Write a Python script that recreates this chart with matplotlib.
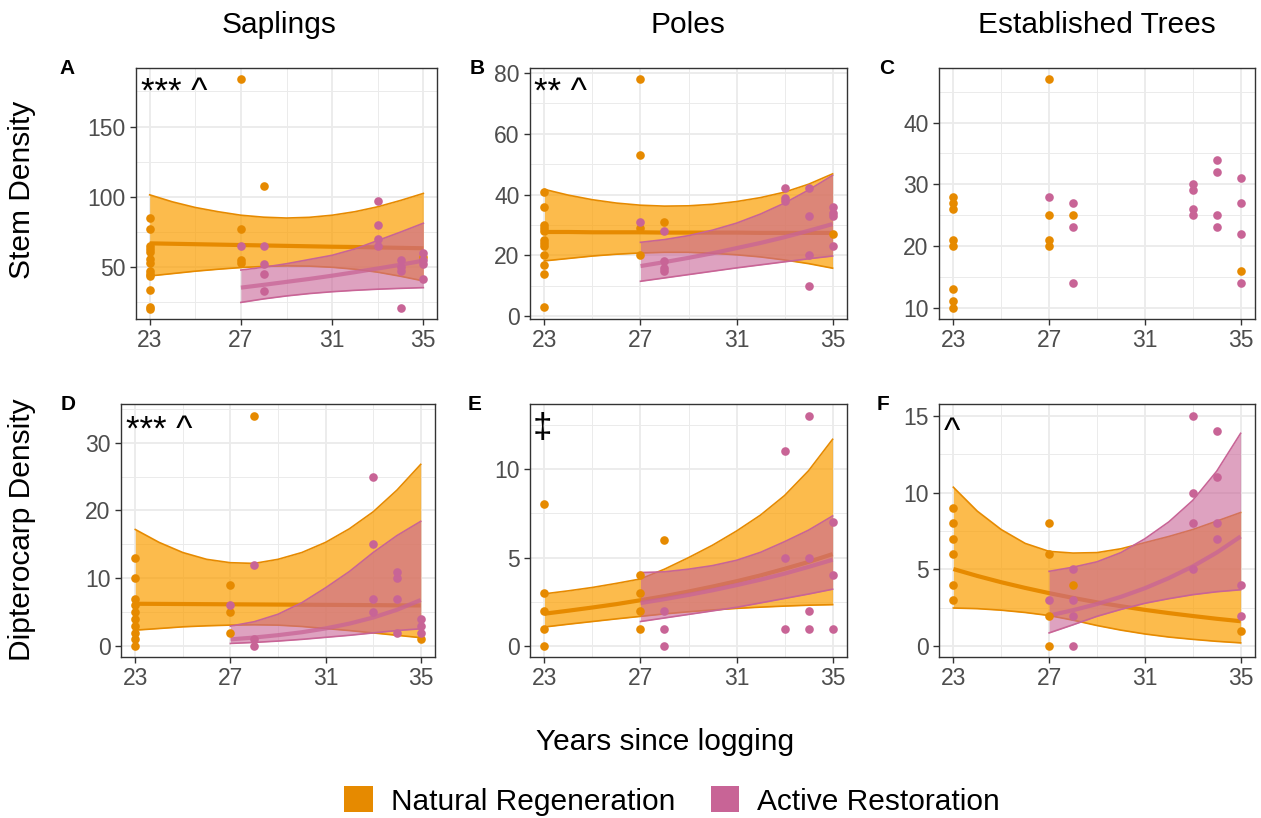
import matplotlib
matplotlib.use('Agg')
import matplotlib.pyplot as plt
from matplotlib.patches import Patch

plt.rcParams['font.family'] = ['Liberation Sans', 'DejaVu Sans']

W, H = 1261, 818

# years on the x axis
yrs_nat = list(range(23, 36))
yrs_act = list(range(27, 36))

# ---- A: saplings, stem density
A_nat = {23: [85, 77, 65, 63, 61, 56, 53, 47, 45, 44, 34, 22, 20], 27: [184, 77, 55, 53], 28: [108], 35: [57]}
A_act = {27: [65], 28: [65, 52, 45, 33], 33: [97, 80, 70, 65], 34: [55, 50, 47, 21], 35: [60, 55, 52, 42]}
A_nat_fit = [67.0, 66.7, 66.4, 66.1, 65.8, 65.5, 65.2, 64.9, 64.6, 64.4, 64.1, 63.8, 63.5]
A_nat_lo = [43.8, 45.5, 47.2, 48.6, 49.8, 50.6, 51.0, 50.8, 50.0, 48.6, 46.5, 43.6, 40.3]
A_nat_hi = [101.5, 96.5, 92.5, 89.5, 87.0, 85.6, 85.0, 85.5, 87.0, 89.5, 93.0, 97.5, 102.5]
A_act_fit = [35.5, 37.5, 39.6, 41.7, 44.0, 46.5, 49.1, 51.8, 54.7]
A_act_lo = [25.0, 27.5, 29.6, 31.3, 32.6, 33.6, 34.4, 35.0, 35.5]
A_act_hi = [48.0, 50.0, 52.5, 55.5, 58.5, 63.0, 69.0, 75.0, 81.3]

# ---- B: poles, stem density
B_nat = {23: [41, 36, 30, 29, 28, 25, 24, 23, 20, 17, 14, 3], 27: [78, 53, 29, 20], 28: [31], 35: [27]}
B_act = {27: [31], 28: [28, 18, 16, 15], 33: [42, 39, 38], 34: [42, 33, 20, 10], 35: [36, 34, 33, 23]}
B_nat_fit = [27.7, 27.7, 27.6, 27.6, 27.6, 27.5, 27.5, 27.5, 27.5, 27.4, 27.4, 27.4, 27.4]
B_nat_lo = [18.2, 19.0, 19.8, 20.4, 20.8, 21.0, 21.0, 20.7, 20.2, 19.5, 18.5, 17.3, 15.8]
B_nat_hi = [41.7, 39.8, 38.3, 37.2, 36.5, 36.2, 36.3, 36.8, 37.7, 39.0, 40.8, 43.4, 46.8]
B_act_fit = [16.5, 17.8, 19.2, 20.7, 22.4, 24.1, 26.0, 28.1, 30.3]
B_act_lo = [11.5, 12.6, 13.7, 14.8, 15.9, 16.9, 17.9, 18.9, 19.8]
B_act_hi = [24.3, 25.2, 26.5, 28.3, 30.6, 33.6, 37.2, 41.5, 46.3]

# ---- C: established trees, stem density (no fit)
C_nat = {23: [28, 27, 26, 21, 20, 13, 11, 10], 27: [47, 25, 21, 20], 28: [25], 35: [16]}
C_act = {27: [28], 28: [27, 23, 14], 33: [30, 29, 26, 25], 34: [34, 32, 25, 23], 35: [31, 27, 22, 14]}

# ---- D: saplings, dipterocarp density
D_nat = {23: [13, 10, 7, 6, 5, 4, 3, 2, 1, 0], 27: [9, 5, 2], 28: [34], 35: [1]}
D_act = {27: [6], 28: [12, 1, 0], 33: [25, 15, 7, 5], 34: [11, 10, 7, 2], 35: [4, 3, 2]}
D_nat_fit = [6.25, 6.23, 6.21, 6.19, 6.17, 6.15, 6.13, 6.11, 6.09, 6.07, 6.05, 6.02, 6.0]
D_nat_lo = [2.36, 2.6, 2.85, 3.0, 3.1, 3.15, 3.1, 2.9, 2.6, 2.3, 1.95, 1.6, 1.25]
D_nat_hi = [17.2, 15.3, 13.8, 12.8, 12.3, 12.2, 12.8, 13.8, 15.3, 17.3, 19.8, 23.0, 26.8]
D_act_fit = [1.0, 1.27, 1.62, 2.05, 2.61, 3.32, 4.22, 5.36, 6.8]
D_act_lo = [0.4, 0.55, 0.75, 1.0, 1.3, 1.6, 1.95, 2.3, 2.56]
D_act_hi = [2.95, 3.6, 4.7, 6.4, 8.6, 11.0, 13.8, 16.3, 18.4]

# ---- E: poles, dipterocarp density
E_nat = {23: [8, 3, 2, 1, 0], 27: [4, 3, 2, 1], 28: [6]}
E_act = {28: [2, 1, 0], 33: [11, 5, 1], 34: [13, 5, 2, 1], 35: [7, 4, 1]}
E_nat_fit = [1.84, 2.01, 2.19, 2.38, 2.60, 2.83, 3.09, 3.37, 3.67, 4.00, 4.37, 4.76, 5.20]
E_nat_lo = [1.09, 1.25, 1.4, 1.55, 1.69, 1.83, 1.95, 2.05, 2.14, 2.21, 2.27, 2.32, 2.35]
E_nat_hi = [2.96, 3.13, 3.32, 3.55, 3.8, 4.35, 5.0, 5.7, 6.5, 7.4, 8.5, 9.9, 11.67]
E_act_fit = [2.44, 2.66, 2.90, 3.16, 3.45, 3.76, 4.10, 4.48, 4.88]
E_act_lo = [1.4, 1.6, 1.8, 2.0, 2.2, 2.45, 2.7, 2.95, 3.22]
E_act_hi = [4.16, 4.2, 4.35, 4.55, 4.85, 5.3, 5.9, 6.55, 7.35]

# ---- F: established trees, dipterocarp density
F_nat = {23: [9, 8, 7, 6, 4, 3], 27: [8, 6, 2, 0], 28: [4], 35: [1]}
F_act = {27: [3], 28: [5, 3, 2, 0], 33: [15, 10, 8, 5], 34: [14, 11, 8, 7], 35: [4, 2]}
F_nat_fit = [5.03, 4.58, 4.17, 3.80, 3.46, 3.15, 2.86, 2.61, 2.37, 2.16, 1.97, 1.79, 1.63]
F_nat_lo = [2.49, 2.45, 2.35, 2.2, 2.0, 1.7, 1.35, 1.05, 0.8, 0.6, 0.45, 0.32, 0.22]
F_nat_hi = [10.36, 8.8, 7.6, 6.7, 6.18, 6.07, 6.1, 6.35, 6.75, 7.15, 7.6, 8.15, 8.71]
F_act_fit = [2.0, 2.35, 2.75, 3.22, 3.78, 4.44, 5.2, 6.1, 7.15]
F_act_lo = [0.87, 1.4, 1.95, 2.4, 2.8, 3.1, 3.36, 3.55, 3.68]
F_act_hi = [4.88, 5.15, 5.5, 6.1, 7.0, 8.1, 9.5, 11.4, 13.87]

col_titles = ['Saplings', 'Poles', 'Established Trees']
row_titles = ['Stem Density', 'Dipterocarp Density']
legend_labels = ['Natural Regeneration', 'Active Restoration']

nat_col = '#E68A00'
act_col = '#C86496'
nat_fill = '#FB9E00'


def axes_px(l, t, r, b):
    return fig.add_axes([l / W, 1 - b / H, (r - l) / W, (b - t) / H])


def draw(ax, nat, act, fits, ylim, yticks, yminor):
    ax.set_xlim(22.4, 35.6)
    ax.set_ylim(*ylim)
    ax.set_xticks([23, 27, 31, 35])
    ax.set_xticks([25, 29, 33], minor=True)
    ax.set_yticks(yticks)
    ax.set_yticks(yminor, minor=True)
    ax.grid(which='major', color='#EBEBEB', lw=1.3, zorder=0)
    ax.grid(which='minor', color='#EBEBEB', lw=0.7, zorder=0)
    ax.set_axisbelow(True)
    ax.tick_params(which='major', labelsize=16.5, colors='#333333', labelcolor='#4D4D4D', length=4, width=1)
    ax.tick_params(which='minor', length=0)
    for s in ax.spines.values():
        s.set_color('#333333')
        s.set_linewidth(1.0)
    if fits is not None:
        nf, nl, nh, af, al, ah = fits
        ax.fill_between(yrs_nat, nl, nh, color=nat_fill, alpha=0.7, lw=0, zorder=2)
        ax.plot(yrs_nat, nl, color=nat_col, lw=1.2, zorder=2)
        ax.plot(yrs_nat, nh, color=nat_col, lw=1.2, zorder=2)
        ax.plot(yrs_nat, nf, color=nat_col, lw=3, zorder=2, solid_capstyle='butt')
        ax.fill_between(yrs_act, al, ah, color=act_col, alpha=0.6, lw=0, zorder=3)
        ax.plot(yrs_act, al, color=act_col, lw=1.2, zorder=3)
        ax.plot(yrs_act, ah, color=act_col, lw=1.2, zorder=3)
        ax.plot(yrs_act, af, color=act_col, lw=3, alpha=0.75, zorder=3, solid_capstyle='butt')
    for grp, c in [(nat, nat_col), (act, act_col)]:
        for yr, vals in grp.items():
            ax.plot([yr] * len(vals), vals, 'o', color=c, ms=6.2, mew=0, zorder=5)


fig = plt.figure(figsize=(W / 100, H / 100), dpi=100)

axA = axes_px(136, 68, 437, 319)
draw(axA, A_nat, A_act, (A_nat_fit, A_nat_lo, A_nat_hi, A_act_fit, A_act_lo, A_act_hi),
     (13.2, 191.7), [50, 100, 150], [25, 75, 125, 175])
axB = axes_px(530, 68, 847, 319)
draw(axB, B_nat, B_act, (B_nat_fit, B_nat_lo, B_nat_hi, B_act_fit, B_act_lo, B_act_hi),
     (-0.9, 81.6), [0, 20, 40, 60, 80], [10, 30, 50, 70])
axC = axes_px(939, 68, 1255, 319)
draw(axC, C_nat, C_act, None, (8.15, 48.85), [10, 20, 30, 40], [15, 25, 35, 45])
axD = axes_px(121, 404, 435, 657)
draw(axD, D_nat, D_act, (D_nat_fit, D_nat_lo, D_nat_hi, D_act_fit, D_act_lo, D_act_hi),
     (-1.6, 35.7), [0, 10, 20, 30], [5, 15, 25, 35])
axE = axes_px(530, 404, 847, 657)
draw(axE, E_nat, E_act, (E_nat_fit, E_nat_lo, E_nat_hi, E_act_fit, E_act_lo, E_act_hi),
     (-0.6, 13.66), [0, 5, 10], [2.5, 7.5, 12.5])
axF = axes_px(939, 404, 1255, 657)
draw(axF, F_nat, F_act, (F_nat_fit, F_nat_lo, F_nat_hi, F_act_fit, F_act_lo, F_act_hi),
     (-0.7, 15.78), [0, 5, 10, 15], [2.5, 7.5, 12.5])

# panel letters
for lab, px, py in [('A', 67, 68), ('B', 477, 68), ('C', 887, 68),
                    ('D', 68, 405), ('E', 475, 405), ('F', 883, 405)]:
    fig.text(px / W, 1 - py / H, lab, fontsize=15, fontweight='bold', ha='center', va='center')

# significance marks
for txt, px, py in [('*** ^', 141, 92), ('** ^', 534, 92), ('*** ^', 126, 430),
                    ('\u2021', 533, 428), ('^', 944, 432)]:
    fig.text(px / W, 1 - py / H, txt, fontsize=25, ha='left', va='center')

for t, px in zip(col_titles, [279, 688, 1097]):
    fig.text(px / W, 1 - 25 / H, t, fontsize=21.5, ha='center', va='center')
for t, py in zip(row_titles, [190, 530]):
    fig.text(22 / W, 1 - py / H, t, fontsize=21.5, ha='center', va='center', rotation=90)
fig.text(665 / W, 1 - 742 / H, 'Years since logging', fontsize=21.5, ha='center', va='center')

handles = [Patch(facecolor=nat_col, edgecolor='none'), Patch(facecolor=act_col, edgecolor='none')]
fig.legend(handles, legend_labels, loc='center', bbox_to_anchor=(672 / W, 1 - 801 / H), ncol=2,
           frameon=False, fontsize=21.5, handlelength=0.95, handleheight=0.95, handletextpad=0.6,
           columnspacing=1.2)

fig.savefig('out.png', dpi=100)
